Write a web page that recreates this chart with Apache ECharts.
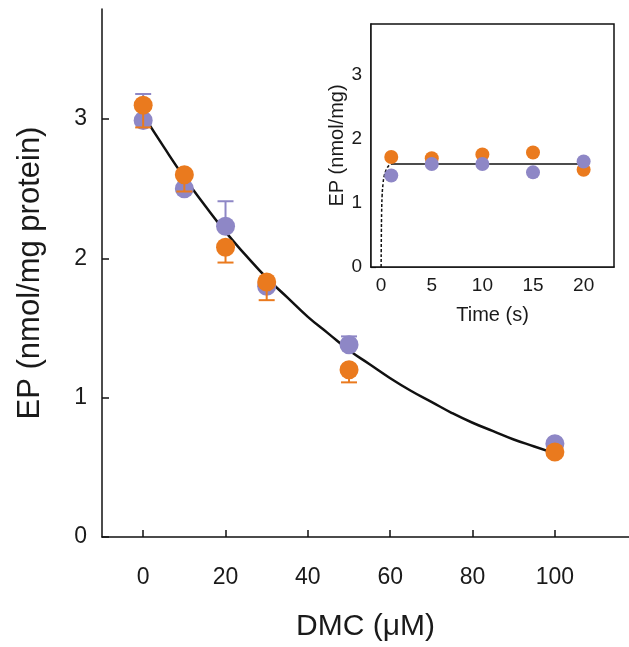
<!DOCTYPE html>
<html>
<head>
<meta charset="utf-8">
<script src="https://cdn.jsdelivr.net/npm/echarts@6/dist/echarts.min.js"></script>
<style>
html,body{margin:0;padding:0;background:#fff;}
#chart{width:629px;height:647px;}
</style>
</head>
<body>
<div id="chart"></div>
<script>
// ---- Main panel data ----
const mainX = [0, 10, 20, 30, 50, 100];
const mainPurple = [2.99, 2.50, 2.23, 1.80, 1.38, 0.67];
const mainOrange = [3.10, 2.60, 2.08, 1.83, 1.20, 0.61];
const purpleErrTop = [3.18, null, 2.41, null, 1.44, null];
const orangeErrBottom = [2.94, 2.48, 1.97, 1.70, 1.11, null];
const fitX = [0, 5, 10, 15, 20, 25, 30, 35, 40, 45, 50, 55, 60, 65, 70, 75, 80, 85, 90, 95, 100];
const fitY = [3.03, 2.80, 2.58, 2.38, 2.19, 2.02, 1.86, 1.72, 1.58, 1.46, 1.34, 1.24, 1.14, 1.05, 0.97, 0.89, 0.82, 0.76, 0.70, 0.65, 0.60];
const mainXTicks = [0, 20, 40, 60, 80, 100];
const mainYTicks = [0, 1, 2, 3];

// ---- Inset data ----
const insetT = [1, 5, 10, 15, 20];
const insetOrange = [1.72, 1.70, 1.76, 1.79, 1.52];
const insetPurple = [1.43, 1.61, 1.61, 1.48, 1.65];
const plateauT = [1.05, 20];
const plateauY = [1.61, 1.61];
const riseT = [0, 0.02, 0.05, 0.1, 0.2, 0.3, 0.45, 0.6, 0.8, 1.05];
const riseY = [0, 0.45, 0.85, 1.12, 1.32, 1.42, 1.50, 1.55, 1.59, 1.61];
const insetXTicks = [0, 5, 10, 15, 20];
const insetYTicks = [0, 1, 2, 3];

const ORANGE = '#EA7A1E';
const PURPLE = '#8E87C6';
const FONT = 'Liberation Sans, Arial, Helvetica, sans-serif';
const TXT = '#1a1a1a';

function zip(a, b) { return a.map((v, i) => [v, b[i]]); }

function errSeries(xs, ys, ends, color, z) {
  const data = [];
  xs.forEach((x, i) => { if (ends[i] != null) data.push([x, ys[i], ends[i]]); });
  return {
    type: 'custom', xAxisIndex: 0, yAxisIndex: 0, z: z, silent: true,
    data: data,
    renderItem: function (params, api) {
      const p0 = api.coord([api.value(0), api.value(1)]);
      const p1 = api.coord([api.value(0), api.value(2)]);
      const hw = 8;
      return {
        type: 'group',
        children: [
          { type: 'line', shape: { x1: p0[0], y1: p0[1], x2: p1[0], y2: p1[1] }, style: { stroke: color, lineWidth: 2 } },
          { type: 'line', shape: { x1: p1[0] - hw, y1: p1[1], x2: p1[0] + hw, y2: p1[1] }, style: { stroke: color, lineWidth: 2 } }
        ]
      };
    }
  };
}

const chart = echarts.init(document.getElementById('chart'), null, { renderer: 'canvas' });

const axisLineStyle = { color: '#111', width: 1.5 };

const option = {
  animation: false,
  backgroundColor: '#fff',
  grid: [
    { left: 102, top: 9, right: 0, bottom: 108 },
    { left: 371, top: 24, width: 243, height: 243, show: true, borderColor: '#111', borderWidth: 1.5, backgroundColor: '#fff', z: 5 }
  ],
  xAxis: [
    {
      type: 'value', gridIndex: 0, min: -10, max: 118,
      name: 'DMC (\u03bcM)', nameLocation: 'middle', nameGap: 75,
      nameTextStyle: { fontFamily: FONT, fontSize: 30, color: TXT },
      axisLine: { show: true, onZero: false, lineStyle: axisLineStyle },
      axisTick: { show: true, inside: true, length: 7, customValues: mainXTicks, lineStyle: { color: '#111', width: 1.5 } },
      axisLabel: { customValues: mainXTicks, margin: 29, fontFamily: FONT, fontSize: 23, color: TXT },
      splitLine: { show: false }
    },
    {
      type: 'value', gridIndex: 1, min: -1, max: 23,
      name: 'Time (s)', nameLocation: 'middle', nameGap: 38,
      nameTextStyle: { fontFamily: FONT, fontSize: 20, color: TXT },
      axisLine: { show: true, onZero: false, lineStyle: axisLineStyle },
      axisTick: { show: true, inside: true, length: 5, customValues: insetXTicks, lineStyle: { color: '#111', width: 1.2 } },
      axisLabel: { customValues: insetXTicks, margin: 9, fontFamily: FONT, fontSize: 19, color: TXT },
      splitLine: { show: false }
    }
  ],
  yAxis: [
    {
      type: 'value', gridIndex: 0, min: 0, max: 3.79,
      name: 'EP (nmol/mg protein)', nameLocation: 'middle', nameGap: 56,
      nameTextStyle: { fontFamily: FONT, fontSize: 31, color: TXT },
      axisLine: { show: true, onZero: false, lineStyle: axisLineStyle },
      axisTick: { show: true, inside: true, length: 7, customValues: mainYTicks, lineStyle: { color: '#111', width: 1.5 } },
      axisLabel: { customValues: mainYTicks, margin: 15, fontFamily: FONT, fontSize: 23, color: TXT },
      splitLine: { show: false }
    },
    {
      type: 'value', gridIndex: 1, min: 0, max: 3.8,
      name: 'EP (nmol/mg)', nameLocation: 'middle', nameGap: 24,
      nameTextStyle: { fontFamily: FONT, fontSize: 20, color: TXT },
      axisLine: { show: true, onZero: false, lineStyle: axisLineStyle },
      axisTick: { show: true, inside: true, length: 5, customValues: insetYTicks, lineStyle: { color: '#111', width: 1.2 } },
      axisLabel: { customValues: insetYTicks, margin: 9, fontFamily: FONT, fontSize: 19, color: TXT },
      splitLine: { show: false }
    }
  ],
  series: [
    {
      type: 'line', xAxisIndex: 0, yAxisIndex: 0, data: zip(fitX, fitY), smooth: true,
      showSymbol: false, symbol: 'none', lineStyle: { color: '#111', width: 2.5 }, z: 2, silent: true
    },
    errSeries(mainX, mainPurple, purpleErrTop, PURPLE, 3),
    {
      type: 'scatter', xAxisIndex: 0, yAxisIndex: 0, data: zip(mainX, mainPurple),
      symbolSize: 19, itemStyle: { color: PURPLE, opacity: 1 }, z: 4
    },
    errSeries(mainX, mainOrange, orangeErrBottom, ORANGE, 5),
    {
      type: 'scatter', xAxisIndex: 0, yAxisIndex: 0, data: zip(mainX, mainOrange),
      symbolSize: 19, itemStyle: { color: ORANGE, opacity: 1 }, z: 6
    },
    // inset
    {
      type: 'line', xAxisIndex: 1, yAxisIndex: 1, data: zip(riseT, riseY), smooth: true,
      showSymbol: false, symbol: 'none', lineStyle: { color: '#111', width: 1.5, type: [3, 2] }, z: 10, silent: true
    },
    {
      type: 'line', xAxisIndex: 1, yAxisIndex: 1, data: zip(plateauT, plateauY),
      showSymbol: false, symbol: 'none', lineStyle: { color: '#111', width: 1.5 }, z: 10, silent: true
    },
    {
      type: 'scatter', xAxisIndex: 1, yAxisIndex: 1, data: zip(insetT, insetOrange),
      symbolSize: 14, itemStyle: { color: ORANGE, opacity: 1 }, z: 11
    },
    {
      type: 'scatter', xAxisIndex: 1, yAxisIndex: 1, data: zip(insetT, insetPurple),
      symbolSize: 14, itemStyle: { color: PURPLE, opacity: 1 }, z: 12
    }
  ]
};
chart.setOption(option);
</script>
</body>
</html>
